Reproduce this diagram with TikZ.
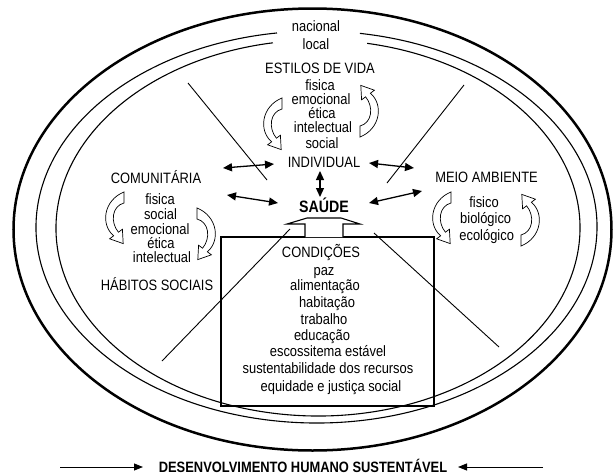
\documentclass[tikz,border=0pt]{standalone}
\usepackage{fontspec}
\newfontfamily\labfont{Liberation Sans}[FakeStretch=0.86]
\usetikzlibrary{arrows.meta,calc}
\tikzset{
  lab/.style={anchor=base, inner sep=0pt, font=\labfont\fontsize{15}{17}\selectfont},
  labb/.style={lab, font=\labfont\bfseries\fontsize{15}{17}\selectfont},
  labbig/.style={lab, font=\labfont\bfseries\fontsize{16.5}{18}\selectfont},
  thinline/.style={line width=0.9pt},
  ringline/.style={line width=1.1pt},
  biarrow/.style={line width=1.3pt, {Triangle[length=9pt,width=8pt]}-{Triangle[length=9pt,width=8pt]}},
  onearrow/.style={line width=0.9pt, -{Triangle[length=9pt,width=7pt]}},
  curv/.pic={
    \draw[line width=0.7pt, fill=white] (0,0) -- (0,11)
      .. controls (-12,14) and (-14,30) .. (-5.6,40.2)
      -- (-1.6,37.2) -- (-0.8,51.6) -- (-14.4,46.8) -- (-10.4,43.8)
      .. controls (-24,32) and (-20,8) .. (0,0) -- cycle;
  }
}
\begin{document}
\begin{tikzpicture}[x=1pt,y=-1pt]
\useasboundingbox (0,0) rectangle (614,474);
% rings
\draw[line width=2.5pt] (312.5,229.5) ellipse [x radius=299, y radius=221];
\draw[ringline] ($(316.5,227)+(278.9:280.5 and 196)$) arc[start angle=278.9, end angle=621.9, x radius=280.5, y radius=196];
\draw[ringline] ($(318,228)+(280.8:262 and 188)$) arc[start angle=280.8, end angle=620.1, x radius=262, y radius=188];
% diagonal lines
\coordinate (d1a) at (188,83);  \coordinate (d1b) at (267,180);
\coordinate (d2a) at (464,85);  \coordinate (d2b) at (387,183);
\coordinate (d3a) at (290,229); \coordinate (d3b) at (162,361);
\coordinate (d4a) at (374,233); \coordinate (d4b) at (499,347);
\draw[thinline] (d1a) -- (d1b);
\draw[thinline] (d2a) -- (d2b);
\draw[thinline] (d3a) -- (d3b);
\draw[thinline] (d4a) -- (d4b);
% box of conditions
\draw[ringline] (221,237) rectangle (434,406);
\draw[ringline, fill=white] (305,237) -- (305,224) -- (287,224) -- (307,218) -- (341,218) -- (360,224) -- (343,224) -- (343,237);
% texts
\node[lab] (nac) at (316,31.5) {nacional};
\node[lab] (loc) at (316,49.5) {local};
\node[lab] (estilos) at (320,73.3) {ESTILOS DE VIDA};
\node[lab] (e1) at (320,90.5) {fisica};
\node[lab] (e2) at (321,104.5) {emocional};
\node[lab] (e3) at (322,118.5) {ética};
\node[lab] (e4) at (323,132.5) {intelectual};
\node[lab] (e5) at (322,148.5) {social};
\node[lab] (indiv) at (324,167.3) {INDIVIDUAL};
\node[lab] (comun) at (156,183.3) {COMUNITÁRIA};
\node[lab] (c1) at (160,204.5) {fisica};
\node[lab] (c2) at (160.5,219.5) {social};
\node[lab] (c3) at (160,234.5) {emocional};
\node[lab] (c4) at (161,248.5) {ética};
\node[lab] (c5) at (162,262.5) {intelectual};
\node[lab] (habitos) at (157,290.3) {HÁBITOS SOCIAIS};
\node[lab] (meio) at (486.5,182.3) {MEIO AMBIENTE};
\node[lab] (m1) at (484,207.5) {fisico};
\node[lab] (m2) at (485.7,223.5) {biológico};
\node[lab] (m3) at (486.7,240.5) {ecológico};
\node[labbig] (saude) at (324,212) {SAÚDE};
\node[lab] (cond) at (321,257.3) {CONDIÇÕES};
\node[lab] (k1) at (324,275) {paz};
\node[lab] (k2) at (325,290.5) {alimentação};
\node[lab] (k3) at (327,307.5) {habitação};
\node[lab] (k4) at (324,324.5) {trabalho};
\node[lab] (k5) at (322,340.5) {educação};
\node[lab] (k6) at (328,356.5) {escossitema estável};
\node[lab] (k7) at (328,373.5) {sustentabilidade dos recursos};
\node[lab] (k8) at (331,391.5) {equidade e justiça social};
\node[labb] (desenv) at (303,472.3) {DESENVOLVIMENTO HUMANO SUSTENTÁVEL};
% two-way arrows
\coordinate (a1a) at (223,168); \coordinate (a1b) at (274,164);
\coordinate (a2a) at (369,163); \coordinate (a2b) at (414,168);
\coordinate (a3a) at (320,171); \coordinate (a3b) at (320,197);
\coordinate (a4a) at (227,195); \coordinate (a4b) at (278,203);
\coordinate (a5a) at (369,203); \coordinate (a5b) at (422,191);
\draw[biarrow] (a1a) -- (a1b);
\draw[biarrow] (a2a) -- (a2b);
\draw[biarrow] (a3a) -- (a3b);
\draw[biarrow] (a4a) -- (a4b);
\draw[biarrow] (a5a) -- (a5b);
% bottom arrows
\coordinate (bl) at (60,467); \coordinate (blt) at (143,467);
\coordinate (br) at (543,467); \coordinate (brt) at (458,467);
\draw[onearrow] (bl) -- (blt);
\draw[onearrow] (br) -- (brt);
% curved block arrows
\pic at (282,98) {curv};
\pic[rotate=180] at (360,137) {curv};
\pic at (124,192) {curv};
\pic[xscale=-1] at (197,208) {curv};
\pic at (451,192) {curv};
\pic[rotate=180] at (521,246) {curv};
\end{tikzpicture}
\end{document}
